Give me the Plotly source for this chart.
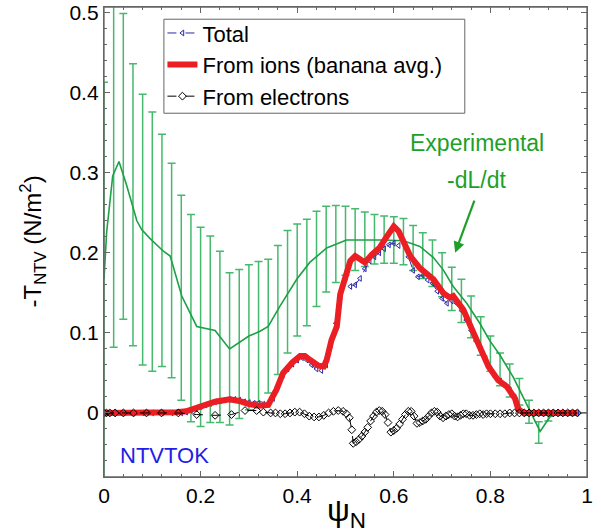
import plotly.graph_objects as go

# ---------------- data ----------------
# Experimental -dL/dt : error bar positions with upper / lower ends
exp_bar_x = [0.00, 0.02, 0.04, 0.06, 0.08, 0.10, 0.12, 0.14, 0.16, 0.18,
             0.20, 0.22, 0.24, 0.26, 0.28, 0.30, 0.32, 0.34, 0.36, 0.38,
             0.40, 0.42, 0.44, 0.46, 0.48, 0.50, 0.52, 0.54, 0.56, 0.58,
             0.60, 0.62, 0.64, 0.66, 0.68, 0.70, 0.72, 0.74, 0.76, 0.78,
             0.80, 0.82, 0.84, 0.86, 0.88, 0.90, 0.92]
exp_bar_top = [0.413, 0.620, 0.499, 0.436, 0.398, 0.376, 0.348, 0.312, 0.272, 0.248,
               0.232, 0.221, 0.202, 0.175, 0.179, 0.185, 0.189, 0.192, 0.209, 0.228,
               0.236, 0.242, 0.252, 0.258, 0.259, 0.258, 0.255, 0.251, 0.248, 0.246,
               0.245, 0.243, 0.234, 0.225, 0.216, 0.200, 0.182, 0.167, 0.146, 0.120,
               0.096, 0.075, 0.061, 0.043, 0.016, -0.011, 0.001]
exp_bar_bot = [-0.090, 0.082, 0.117, 0.084, 0.060, 0.052, 0.058, 0.044, 0.016, -0.011,
               -0.017, -0.012, -0.012, -0.015, -0.007, 0.004, 0.014, 0.025, 0.048, 0.075,
               0.096, 0.109, 0.133, 0.151, 0.163, 0.172, 0.178, 0.183, 0.186, 0.187,
               0.187, 0.185, 0.178, 0.168, 0.158, 0.145, 0.128, 0.113, 0.094, 0.072,
               0.052, 0.034, 0.020, 0.010, -0.013, -0.038, -0.010]

# Experimental smoothed curve
exp_x = [0.0, 0.0055, 0.018, 0.031, 0.047, 0.068, 0.078, 0.095, 0.123, 0.137,
         0.161, 0.192, 0.23, 0.26, 0.30, 0.323, 0.34, 0.364, 0.399, 0.426,
         0.461, 0.502, 0.578, 0.62, 0.654, 0.682, 0.702, 0.723, 0.751, 0.778,
         0.799, 0.82, 0.847, 0.868, 0.885, 0.903, 0.923, 0.937, 1.0]
exp_y = [0.167, 0.226, 0.296, 0.314, 0.284, 0.240, 0.229, 0.218, 0.202, 0.196,
         0.146, 0.108, 0.103, 0.080, 0.096, 0.102, 0.108, 0.133, 0.167, 0.188,
         0.206, 0.216, 0.216, 0.215, 0.208, 0.194, 0.179, 0.158, 0.137, 0.112,
         0.090, 0.072, 0.045, 0.020, 0.0, -0.023, -0.005, 0.0, 0.0]

# From ions (banana avg.)
ion_x = [0.0, 0.05, 0.10, 0.15, 0.17, 0.20, 0.23, 0.26, 0.28, 0.30,
         0.32, 0.34, 0.357, 0.371, 0.39, 0.406, 0.416, 0.427, 0.444, 0.455,
         0.461, 0.471, 0.482, 0.489, 0.502, 0.51, 0.52, 0.53, 0.54, 0.555,
         0.57, 0.585, 0.60, 0.61, 0.62, 0.634, 0.654, 0.682, 0.702, 0.716,
         0.723, 0.744, 0.765, 0.778, 0.796, 0.816, 0.834, 0.851, 0.858, 0.87,
         0.90, 0.95, 0.98]
ion_y = [0.0, 0.0, 0.0, 0.001, 0.002, 0.008, 0.014, 0.017, 0.015, 0.011,
         0.009, 0.010, 0.029, 0.050, 0.063, 0.071, 0.071, 0.066, 0.059, 0.058,
         0.066, 0.091, 0.108, 0.148, 0.176, 0.190, 0.196, 0.191, 0.188, 0.198,
         0.206, 0.220, 0.233, 0.227, 0.215, 0.196, 0.181, 0.167, 0.150, 0.144,
         0.146, 0.129, 0.100, 0.083, 0.058, 0.041, 0.033, 0.018, 0.004, 0.0,
         0.0, 0.0, 0.0]

# Total
tot_x = [0.00, 0.02, 0.04, 0.06, 0.08, 0.10, 0.12, 0.14, 0.16, 0.17,
         0.18, 0.19, 0.20, 0.21, 0.22, 0.23, 0.24, 0.25, 0.26, 0.27,
         0.28, 0.29, 0.30, 0.31, 0.32, 0.33, 0.34, 0.35, 0.36, 0.37,
         0.38, 0.39, 0.40, 0.41, 0.42, 0.43, 0.44, 0.45, 0.46, 0.47,
         0.48, 0.49, 0.50, 0.51, 0.52, 0.53, 0.54, 0.55, 0.56, 0.57,
         0.58, 0.59, 0.60, 0.61, 0.62, 0.63, 0.64, 0.65, 0.66, 0.67,
         0.68, 0.69, 0.70, 0.71, 0.72, 0.73, 0.74, 0.75, 0.76, 0.77,
         0.78, 0.79, 0.80, 0.81, 0.82, 0.83, 0.84, 0.85, 0.86, 0.87,
         0.88, 0.89, 0.90, 0.91, 0.92, 0.93, 0.94, 0.95, 0.96, 0.97, 0.98]
tot_y = [0.0, 0.0, 0.0, 0.0, 0.0, 0.0, 0.0, 0.0, 0.0, 0.001,
         0.003, 0.005, 0.008, 0.010, 0.012, 0.014, 0.015, 0.016, 0.017, 0.017,
         0.016, 0.014, 0.013, 0.012, 0.012, 0.011, 0.011, 0.018, 0.034, 0.047,
         0.055, 0.061, 0.066, 0.069, 0.066, 0.060, 0.055, 0.053, 0.060, 0.085,
         0.112, 0.145, 0.170, 0.158, 0.160, 0.168, 0.180, 0.190, 0.195, 0.200,
         0.205, 0.210, 0.212, 0.209, 0.213, 0.195, 0.178, 0.170, 0.172, 0.166,
         0.162, 0.152, 0.143, 0.137, 0.140, 0.137, 0.128, 0.116, 0.103, 0.090,
         0.080, 0.068, 0.055, 0.045, 0.040, 0.034, 0.029, 0.020, 0.004, 0.0,
         0.0, 0.0, 0.0, 0.0, 0.0, 0.0, 0.0, 0.0, 0.0, 0.0, 0.0]

# From electrons
ele_x = [0.0, 0.005, 0.012, 0.023, 0.04, 0.061, 0.088, 0.119, 0.154, 0.192,
         0.23, 0.264, 0.292, 0.316, 0.33, 0.345, 0.355, 0.365, 0.375, 0.385,
         0.395, 0.405, 0.415, 0.425, 0.435, 0.445, 0.455, 0.465, 0.475, 0.485,
         0.495, 0.502, 0.508, 0.513, 0.516, 0.522, 0.528, 0.534, 0.54, 0.546,
         0.552, 0.558, 0.564, 0.57, 0.576, 0.582, 0.588, 0.594, 0.60, 0.606,
         0.612, 0.618, 0.624, 0.63, 0.636, 0.642, 0.648, 0.654, 0.66, 0.666,
         0.672, 0.678, 0.684, 0.69, 0.696, 0.702, 0.708, 0.714, 0.72, 0.726,
         0.732, 0.738, 0.744, 0.75, 0.757, 0.764, 0.771, 0.778, 0.785, 0.792,
         0.80, 0.81, 0.82, 0.83, 0.84, 0.85, 0.86, 0.87, 0.88, 0.89,
         0.90, 0.91, 0.92, 0.93, 0.94, 0.95, 0.96, 0.97, 0.98]
ele_y = [0.0, 0.0, 0.0, 0.0, 0.0, 0.0, 0.0, 0.0, 0.0, -0.002,
         -0.003, -0.002, 0.003, 0.003, 0.001, 0.0, 0.0, -0.001, -0.001, 0.0,
         0.001, 0.001, -0.001, -0.004, -0.005, -0.005, -0.003, 0.0, 0.002, 0.003,
         0.002, -0.001, -0.006, -0.021, -0.038, -0.036, -0.033, -0.029, -0.024, -0.018,
         -0.010, -0.004, 0.001, 0.003, 0.002, -0.002, -0.012, -0.024, -0.022, -0.019,
         -0.014, -0.008, -0.002, 0.002, 0.002, -0.004, -0.013, -0.012, -0.010, -0.008,
         -0.004, 0.0, 0.002, 0.001, -0.004, -0.006, -0.004, -0.002, -0.001, -0.004,
         -0.005, -0.003, -0.001, -0.001, -0.003, -0.003, -0.002, -0.001, -0.002, -0.001,
         -0.001, -0.001, -0.001, -0.001, 0.0, 0.0, 0.0, 0.0, 0.0, 0.0,
         0.0, 0.0, 0.0, 0.0, 0.0, 0.0, 0.0, 0.0, 0.0]

x_ticks = [0, 0.2, 0.4, 0.6, 0.8, 1]
x_tick_text = ["0", "0.2", "0.4", "0.6", "0.8", "1"]
y_ticks = [0, 0.1, 0.2, 0.3, 0.4, 0.5]
y_tick_text = ["0", "0.1", "0.2", "0.3", "0.4", "0.5"]

# ---------------- figure ----------------
FONT = "Liberation Sans, Arial, sans-serif"
BAR_GREEN = "rgb(70,185,110)"
LINE_GREEN = "rgb(30,160,70)"
TXT_GREEN = "rgb(30,160,40)"
FRAME = "#666666"

fig = go.Figure()

bar_len = [t - b for t, b in zip(exp_bar_top, exp_bar_bot)]
fig.add_trace(go.Scatter(
    x=exp_bar_x, y=exp_bar_bot, mode="markers",
    marker=dict(size=0.1, color="rgba(0,0,0,0)"),
    error_y=dict(type="data", symmetric=False, array=bar_len,
                 arrayminus=[0] * len(bar_len), color=BAR_GREEN,
                 thickness=1.5, width=4),
    showlegend=False, hoverinfo="skip"))

fig.add_trace(go.Scatter(
    x=exp_x, y=exp_y, mode="lines",
    line=dict(color=LINE_GREEN, width=1.6),
    showlegend=False, hoverinfo="skip"))

fig.add_trace(go.Scatter(
    x=tot_x, y=tot_y, mode="lines+markers", name="Total",
    line=dict(color="rgb(40,40,170)", width=1, dash="dash"),
    marker=dict(symbol="triangle-left-open", size=5,
                color="rgb(40,40,170)", line=dict(width=1)),
    legendrank=1))

fig.add_trace(go.Scatter(
    x=ion_x, y=ion_y, mode="lines", name="From ions (banana avg.)",
    line=dict(color="rgb(235,30,35)", width=6),
    legendrank=2))

fig.add_trace(go.Scatter(
    x=ele_x, y=ele_y, mode="lines+markers", name="From electrons",
    line=dict(color="black", width=1, dash="dash"),
    marker=dict(symbol="diamond-open", size=6, color="black",
                line=dict(width=1)),
    legendrank=3))

# frame around the plotting area
fig.add_shape(type="rect", xref="paper", yref="paper", x0=0, y0=0, x1=1, y1=1,
              line=dict(color=FRAME, width=1.3), layer="above")
# legend box
fig.add_shape(type="rect", xref="paper", yref="paper",
              x0=0.124, x1=0.747, y0=0.774, y1=0.974,
              line=dict(color="#666666", width=1), fillcolor="white",
              layer="above")

fig.add_annotation(x=0.772, y=0.337, xref="x", yref="y", text="Experimental",
                   showarrow=False, font=dict(family=FONT, size=23, color=TXT_GREEN))
fig.add_annotation(x=0.772, y=0.291, xref="x", yref="y", text="-dL/dt",
                   showarrow=False, font=dict(family=FONT, size=23, color=TXT_GREEN))
fig.add_annotation(x=0.727, y=0.200, ax=0.768, ay=0.267, xref="x", yref="y",
                   axref="x", ayref="y", text="", showarrow=True,
                   arrowhead=2, arrowsize=1, arrowwidth=2.2, arrowcolor=TXT_GREEN)
fig.add_annotation(x=0.028, y=-0.053, xref="x", yref="y", text="NTVTOK",
                   xanchor="left", showarrow=False,
                   font=dict(family=FONT, size=22, color="rgb(30,30,230)"))

# axis titles
fig.add_annotation(x=0.503, y=-0.075, xref="paper", yref="paper",
                   text="ψ<sub>N</sub>", showarrow=False, xanchor="center",
                   yanchor="middle", font=dict(family=FONT, size=32, color="black"))
fig.add_annotation(x=-0.148, y=0.5, xref="paper", yref="paper",
                   text="-T<sub>NTV</sub> (N/m<sup>2</sup>)", showarrow=False,
                   textangle=-90, xanchor="center", yanchor="middle",
                   font=dict(family=FONT, size=24, color="black"))

axis_common = dict(showline=True, linecolor=FRAME, linewidth=1.3, mirror="ticks",
                   ticks="inside", tickcolor=FRAME, ticklen=6, tickwidth=1.2,
                   showgrid=False, zeroline=False, automargin=False,
                   tickfont=dict(family=FONT, size=21, color="black"))

fig.update_xaxes(range=[0, 1], tickvals=x_ticks, ticktext=x_tick_text,
                 minor=dict(ticks="inside", dtick=0.04, ticklen=3, tickcolor=FRAME),
                 **axis_common)
fig.update_yaxes(range=[-0.08, 0.507], tickvals=y_ticks, ticktext=y_tick_text,
                 minor=dict(ticks="inside", dtick=0.02, ticklen=3, tickcolor=FRAME),
                 **axis_common)

fig.update_layout(
    width=601, height=532,
    margin=dict(l=104, r=14, t=7, b=55),
    paper_bgcolor="white", plot_bgcolor="white",
    font=dict(family=FONT, color="black"),
    legend=dict(x=0.121, y=0.989, xanchor="left", yanchor="top",
                bgcolor="rgba(0,0,0,0)", borderwidth=0,
                font=dict(family=FONT, size=22), itemwidth=30,
                tracegroupgap=0),
)

fig.write_html("out.html",
               config={"displayModeBar": False},
               post_script="document.body.style.margin='0';"
                           "document.body.style.overflow='hidden';")
